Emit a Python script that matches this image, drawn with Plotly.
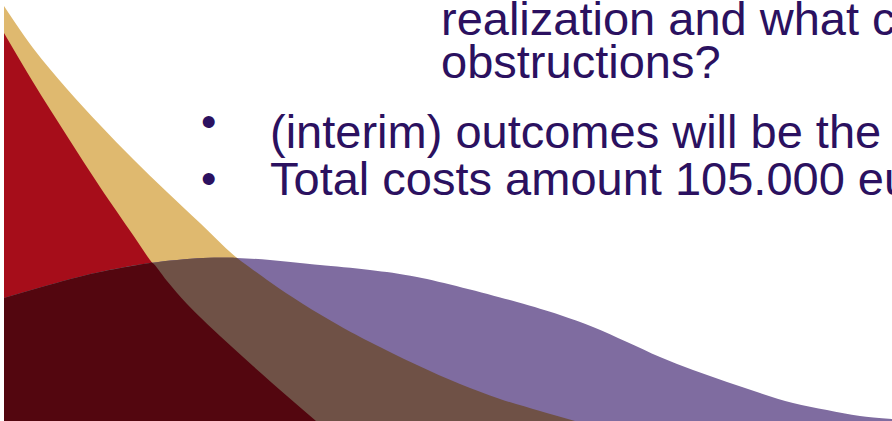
import numpy as np
import plotly.graph_objects as go

# ---- data (x in px from left, height in px above bottom) ----
gold_x = [4, 33, 67, 100, 133, 167, 200, 237, 270, 303, 340, 370, 417, 460, 500, 540, 575]
gold_h = [415, 373, 332, 296, 262, 229, 198, 163, 139, 117, 95, 79, 56, 37, 22, 10, 0]

red_x = [4, 33, 67, 100, 133, 150, 167, 187, 220, 253, 287, 316]
red_h = [388, 339, 285, 234, 186, 161, 140, 117, 85, 55, 25, 0]

purple_x = [4, 67, 100, 150, 203, 237, 270, 300, 320, 370, 417, 517, 560, 593, 627, 660, 693, 727, 760, 793, 827, 860, 892]
purple_h = [123, 141, 149, 158, 163, 163, 161, 158, 156, 151, 144, 119, 106, 94, 79, 64, 51, 39, 28, 18, 11, 5, 2]

text_lines = [
    "realization and what could be the",
    "obstructions?",
    "(interim) outcomes will be the basis",
    "Total costs amount 105.000 euro",
]
bullet_char = "•"

GOLD = "#DFB96F"
RED = "#A60D1A"
PURPLE = "#7F6CA0"
BROWN = "#6F5146"   # gold under purple
DARK = "#53060F"    # red under purple
TEXT = "#2B1160"

W, H = 892, 421


def overlap(ax, ah, bx, bh):
    """Boundary of the region lying under both curves (nodes of whichever is lower)."""
    ax, ah, bx, bh = map(np.asarray, (ax, ah, bx, bh))
    lo = max(ax.min(), bx.min())
    hi = min(ax.max(), bx.max())
    pts = []
    for x, h in zip(ax, ah):
        if lo <= x <= hi and h <= np.interp(x, bx, bh):
            pts.append((float(x), float(h)))
    for x, h in zip(bx, bh):
        if lo <= x <= hi and h <= np.interp(x, ax, ah):
            pts.append((float(x), float(h)))
    grid = np.linspace(lo, hi, 4000)
    d = np.interp(grid, ax, ah) - np.interp(grid, bx, bh)
    idx = np.where(np.diff(np.sign(d)) != 0)[0]
    for i in idx:
        xc = float(grid[i])
        pts.append((xc, float(np.interp(xc, ax, ah))))
    pts = sorted(set(pts))
    return [p[0] for p in pts], [p[1] for p in pts]


brown_x, brown_h = overlap(gold_x, gold_h, purple_x, purple_h)
dark_x, dark_h = overlap(red_x, red_h, purple_x, purple_h)

fig = go.Figure()


def area(x, h, color):
    fig.add_trace(go.Scatter(
        x=x, y=h, mode="lines", fill="tozeroy", fillcolor=color,
        line=dict(color=color, width=0, shape="spline", smoothing=1.0),
        hoverinfo="skip", showlegend=False,
    ))


area(gold_x, gold_h, GOLD)
area(red_x, red_h, RED)
area(purple_x, purple_h, PURPLE)
area(brown_x, brown_h, BROWN)
area(dark_x, dark_h, DARK)

FS = 47
font = dict(family="Liberation Sans, Arial, Helvetica, sans-serif", size=FS, color=TEXT)

# text positions (x left, baseline y measured from top)
ann = [
    (440, 32, text_lines[0]),
    (440, 75, text_lines[1]),
    (269, 145, text_lines[2]),
    (269, 192, text_lines[3]),
]
for x, base, t in ann:
    fig.add_annotation(x=x, y=H - (base - 14), xref="x", yref="y", text=t,
                       showarrow=False, xanchor="left", yanchor="middle",
                       font=font, borderpad=0)

for cy in (121, 178):
    fig.add_annotation(x=208, y=H - cy, xref="x", yref="y", text=bullet_char,
                       showarrow=False, xanchor="center", yanchor="middle",
                       font=dict(family="Liberation Sans, Arial, sans-serif", size=44, color=TEXT),
                       borderpad=0)

fig.update_layout(
    width=W, height=H,
    margin=dict(l=0, r=0, t=0, b=0),
    paper_bgcolor="white", plot_bgcolor="white",
    xaxis=dict(range=[0, W], visible=False, fixedrange=True),
    yaxis=dict(range=[0, H], visible=False, fixedrange=True),
    showlegend=False,
)

fig.write_html("out.html", config={"displayModeBar": False},
               post_script="document.body.style.margin='0';document.body.style.overflow='hidden';")
